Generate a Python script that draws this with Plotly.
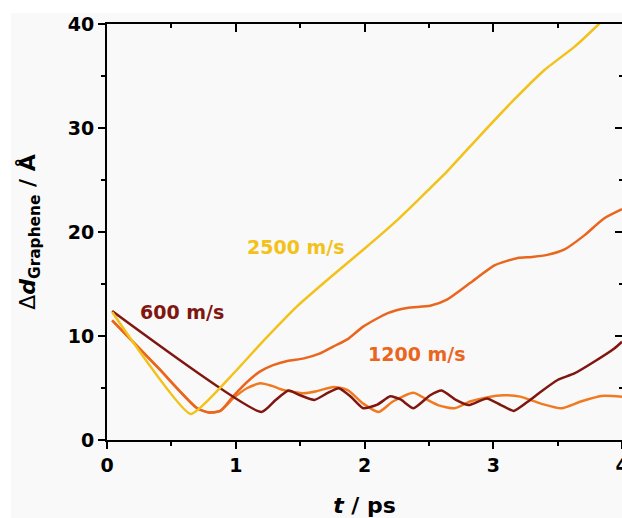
import plotly.graph_objects as go

# ---- data ----
t_2500 = [0.04, 0.65, 0.96, 1.22, 1.48, 1.74, 1.99, 2.25, 2.41, 2.64, 2.90, 3.16, 3.40, 3.63, 3.82, 3.90]
d_2500 = [12.3, 2.5, 6.1, 9.6, 12.9, 15.7, 18.3, 21.1, 23.0, 25.8, 29.3, 32.7, 35.6, 37.8, 40.0, 41.0]

t_1200a = [0.04, 0.40, 0.70, 0.79, 0.88, 0.98, 1.09, 1.19, 1.29, 1.40, 1.53, 1.65, 1.76, 1.87, 1.99,
           2.18, 2.33, 2.51, 2.64, 2.82, 3.01, 3.19, 3.30, 3.42, 3.55, 3.71, 3.86, 4.00]
d_1200a = [11.5, 6.9, 3.05, 2.65, 2.8, 4.2, 5.6, 6.6, 7.2, 7.6, 7.85, 8.3, 9.0, 9.7, 10.9,
           12.2, 12.7, 12.9, 13.5, 15.1, 16.8, 17.5, 17.6, 17.8, 18.3, 19.7, 21.3, 22.2]

t_1200b = [0.04, 0.40, 0.70, 0.79, 0.88, 0.98, 1.09, 1.19, 1.28, 1.37, 1.53, 1.63, 1.76, 1.87, 1.99,
           2.11, 2.22, 2.38, 2.49, 2.57, 2.70, 2.82, 2.95, 3.08, 3.21, 3.37, 3.53, 3.68, 3.84, 4.00]
d_1200b = [11.5, 6.9, 3.05, 2.65, 2.8, 4.0, 5.0, 5.45, 5.2, 4.8, 4.5, 4.7, 5.1, 4.8, 3.5,
           2.7, 3.7, 4.55, 3.85, 3.36, 3.05, 3.7, 4.1, 4.3, 4.17, 3.5, 3.05, 3.7, 4.23, 4.17]

t_600 = [0.04, 1.20, 1.31, 1.41, 1.50, 1.61, 1.71, 1.80, 1.89, 1.99, 2.10, 2.20, 2.28, 2.38, 2.51,
         2.60, 2.71, 2.81, 2.95, 3.06, 3.16, 3.27, 3.37, 3.50, 3.63, 3.78, 3.94, 4.00]
d_600 = [12.4, 2.7, 3.85, 4.75, 4.3, 3.85, 4.5, 4.97, 4.2, 3.05, 3.4, 4.2, 3.9, 3.05, 4.3,
         4.75, 3.85, 3.36, 4.0, 3.36, 2.8, 3.7, 4.65, 5.77, 6.4, 7.5, 8.8, 9.45]

labels = ["600 m/s", "1200 m/s", "2500 m/s"]
label_t = [0.58, 2.41, 1.47]
label_d = [12.3, 8.3, 18.6]

x_ticks = [0, 1, 2, 3, 4]
y_ticks = [0, 10, 20, 30, 40]

C_YEL = "#f2c21b"
C_ORA = "#ea661e"
C_ORB = "#f07a22"
C_RED = "#7f1610"

FONT = "DejaVu Sans"

fig = go.Figure()
fig.add_trace(go.Scatter(x=t_1200b, y=d_1200b, mode="lines",
                         line=dict(color=C_ORB, width=2.5, shape="spline", smoothing=0.6)))
fig.add_trace(go.Scatter(x=t_1200a, y=d_1200a, mode="lines",
                         line=dict(color=C_ORA, width=2.5, shape="spline", smoothing=0.6)))
fig.add_trace(go.Scatter(x=t_600, y=d_600, mode="lines",
                         line=dict(color=C_RED, width=2.5, shape="spline", smoothing=0.5)))
fig.add_trace(go.Scatter(x=t_2500, y=d_2500, mode="lines",
                         line=dict(color=C_YEL, width=2.5, shape="spline", smoothing=0.4)))
# carrier for the mirrored (top/right) axes
fig.add_trace(go.Scatter(x=[], y=[], xaxis="x2", yaxis="y2", hoverinfo="skip"))

for txt, tx, dy, col in zip(labels, label_t, label_d, [C_RED, C_ORA, C_YEL]):
    fig.add_annotation(x=tx, y=dy, text=f"<b>{txt}</b>", showarrow=False,
                       font=dict(family=FONT, size=19, color=col))

tickfont = dict(family=FONT, size=19, color="black", weight="bold")

fig.update_layout(
    width=622, height=518,
    margin=dict(l=107, r=0, t=24, b=78, autoexpand=False),
    paper_bgcolor="white",
    plot_bgcolor="rgba(0,0,0,0)",
    showlegend=False,
    xaxis=dict(range=[0, 4], tickvals=x_ticks, ticks="outside", ticklen=7, tickwidth=2,
               tickcolor="black", showline=True, linewidth=2, linecolor="black",
               showgrid=False, zeroline=False, tickfont=tickfont, ticklabeloverflow="allow",
               automargin=False,
               minor=dict(ticks="outside", ticklen=4, tickwidth=2, tickcolor="black", dtick=0.5),
               title=dict(text="<b><i>t</i> / ps</b>", font=dict(family=FONT, size=22, color="black"),
                          standoff=26)),
    yaxis=dict(range=[0, 40], tickvals=y_ticks, ticks="outside", ticklen=7, tickwidth=2,
               tickcolor="black", showline=True, linewidth=2, linecolor="black",
               showgrid=False, zeroline=False, tickfont=tickfont, automargin=False,
               minor=dict(ticks="outside", ticklen=4, tickwidth=2, tickcolor="black", dtick=5),
               title=dict(text="Δ<b><i>d</i><sub>Graphene</sub> / Å</b>",
                          font=dict(family=FONT, size=22, color="black"), standoff=26)),
    xaxis2=dict(overlaying="x", side="top", range=[0, 4], tickvals=x_ticks, ticks="inside",
                ticklen=8, tickwidth=2, tickcolor="black", showticklabels=False,
                showline=True, linewidth=2, linecolor="black", showgrid=False, zeroline=False,
                minor=dict(ticks="inside", ticklen=4, tickwidth=2, tickcolor="black", dtick=0.5)),
    yaxis2=dict(overlaying="y", side="right", range=[0, 40], tickvals=y_ticks, ticks="inside",
                ticklen=7, tickwidth=2, tickcolor="black", showticklabels=False,
                showline=False, showgrid=False, zeroline=False,
                minor=dict(ticks="inside", ticklen=3, tickwidth=2, tickcolor="black", dtick=5)),
    shapes=[dict(type="rect", xref="paper", yref="paper", x0=-0.1864, x1=1.0,
                 y0=-0.19, y1=1.0264, fillcolor="#f9f9f9", line=dict(width=0), layer="below")],
)

fig.write_html("out.html", config={"displayModeBar": False},
               post_script="document.body.style.margin='0';document.body.style.overflow='hidden';")
